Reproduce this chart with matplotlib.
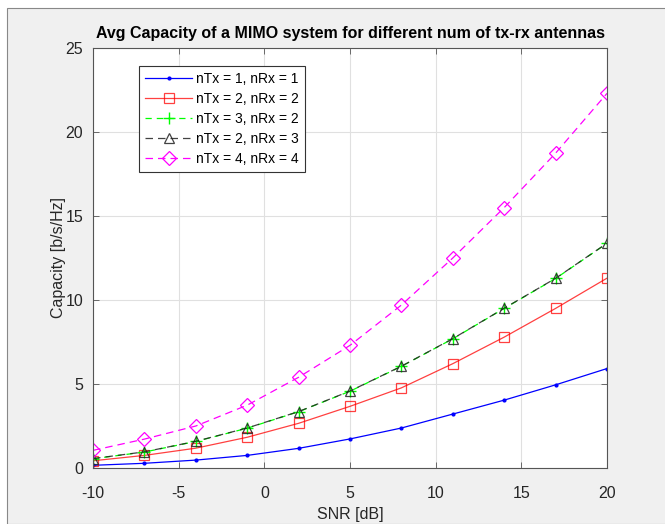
import matplotlib
matplotlib.use("Agg")
import matplotlib.pyplot as plt
from matplotlib.patches import Rectangle

plt.rcParams['font.family'] = ['Liberation Sans', 'DejaVu Sans']
plt.rcParams['axes.unicode_minus'] = False

snr_db = [-10, -7, -4, -1, 2, 5, 8, 11, 14, 17, 20]
cap_1x1 = [0.16, 0.28, 0.47, 0.75, 1.17, 1.73, 2.38, 3.21, 4.04, 4.95, 5.92]
cap_2x2 = [0.43, 0.75, 1.18, 1.83, 2.66, 3.67, 4.77, 6.21, 7.79, 9.50, 11.30]
cap_3x2 = [0.55, 0.95, 1.58, 2.37, 3.35, 4.57, 6.05, 7.69, 9.50, 11.28, 13.37]
cap_2x3 = [0.56, 0.96, 1.59, 2.38, 3.36, 4.58, 6.06, 7.70, 9.51, 11.29, 13.38]
cap_4x4 = [1.05, 1.72, 2.50, 3.74, 5.40, 7.30, 9.70, 12.50, 15.50, 18.74, 22.30]

labels = ['nTx = 1, nRx = 1', 'nTx = 2, nRx = 2', 'nTx = 3, nRx = 2',
          'nTx = 2, nRx = 3', 'nTx = 4, nRx = 4']
xticks = [-10, -5, 0, 5, 10, 15, 20]
yticks = [0, 5, 10, 15, 20, 25]

W, H = 665, 524
fig = plt.figure(figsize=(W / 100, H / 100), dpi=100, facecolor='white')
# screenshot frame
fig.patches.append(Rectangle((7 / W, 0), 1, 1 - 8 / H, transform=fig.transFigure,
                             facecolor='#f0f0f0', edgecolor='#888888', linewidth=0.8,
                             zorder=-10))

ax = fig.add_axes([93 / W, 1 - 468 / H, (607 - 93) / W, (468 - 48) / H])
ax.set_facecolor('white')

ax.plot(snr_db, cap_1x1, color='#0000ff', linestyle='-', marker='.', markersize=4,
        linewidth=0.9, label=labels[0])
ax.plot(snr_db, cap_2x2, color='#ff0000', linestyle='-', marker='s', markersize=7,
        markerfacecolor='none', markeredgewidth=0.9, linewidth=0.9, alpha=0.75,
        label=labels[1])
ax.plot(snr_db, cap_3x2, color='#00ff00', linestyle=(0, (5, 4)), marker='+',
        markersize=9, markeredgewidth=1.0, linewidth=0.9, label=labels[2])
ax.plot(snr_db, cap_2x3, color='#222222', linestyle=(0, (6, 4)), marker='^',
        markersize=7.5, markerfacecolor='none', markeredgewidth=0.9, linewidth=0.9,
        alpha=0.85, label=labels[3])
ax.plot(snr_db, cap_4x4, color='#ff00ff', linestyle=(0, (6, 4)), marker='D',
        markersize=7, markerfacecolor='none', markeredgewidth=0.9, linewidth=0.9,
        label=labels[4])

ax.set_xlim(-10, 20)
ax.set_ylim(0, 25)
ax.set_xticks(xticks)
ax.set_yticks(yticks)
ax.grid(True, color='#e0e0e0', linewidth=0.8)
ax.set_axisbelow(True)
ax.tick_params(direction='in', length=4, width=0.6, colors='#555555',
               labelcolor='#262626', labelsize=11.5, top=True, right=True)
ax.tick_params(axis='x', pad=13)
ax.tick_params(axis='y', pad=7)
for s in ax.spines.values():
    s.set_color('#555555')
    s.set_linewidth(0.8)

ax.set_xlabel('SNR [dB]', fontsize=11.5, color='#262626', labelpad=4)
ax.set_ylabel('Capacity [b/s/Hz]', fontsize=11.5, color='#262626')
ax.yaxis.set_label_coords(-0.052, 0.5)
ax.set_title('Avg Capacity of a MIMO system for different num of tx-rx antennas',
             fontsize=11.5, fontweight='bold', color='black', pad=7)

leg = ax.legend(loc='upper left', bbox_to_anchor=(0.089, 0.957), fontsize=10,
                frameon=True, fancybox=False, edgecolor='#333333', framealpha=1,
                handlelength=3.4, handletextpad=0.25, borderpad=0.45,
                labelspacing=0.42, borderaxespad=0)
leg.get_frame().set_linewidth(0.8)

fig.savefig('out.png', dpi=100, facecolor=fig.get_facecolor())
